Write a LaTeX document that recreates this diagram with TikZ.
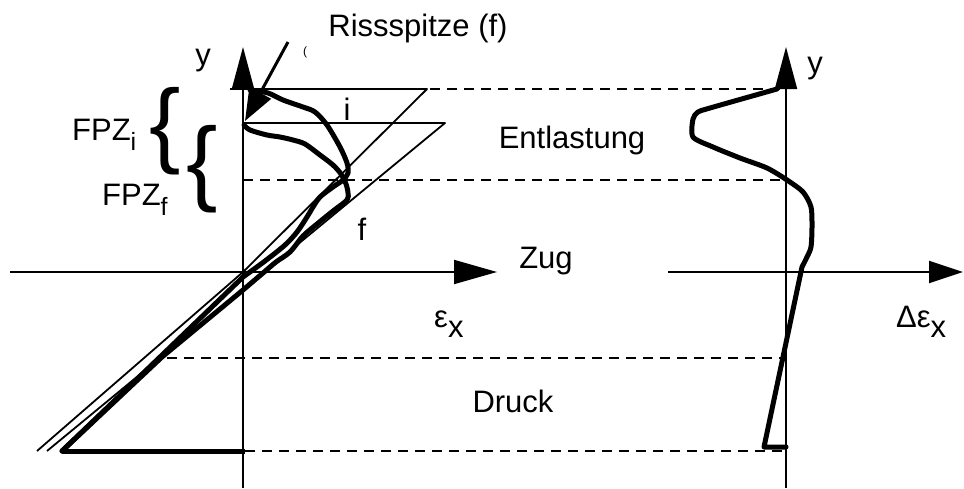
\documentclass[tikz,border=0pt]{standalone}
\usepackage{fontspec}
\setmainfont{Liberation Sans}
\usetikzlibrary{arrows.meta}
\newcommand\mysubsc[1]{\raisebox{-10pt}{#1}}
\begin{document}
\begin{tikzpicture}[x=1pt,y=-1pt,
  lbl/.style={inner sep=0pt, font=\fontsize{31}{36}\selectfont},
  axisline/.style={line width=2pt},
  profile/.style={line width=1.8pt, line join=round},
  dashline/.style={line width=2.6pt, dash pattern=on 10pt off 7pt},
  meas/.style={line width=5pt, line join=round, line cap=round},
  vtip/.style={-{Triangle[length=42pt,width=22pt]}},
  htip/.style={-{Triangle[length=43pt,width=24pt]}},
  bracetxt/.style={inner sep=0pt, font=\fontsize{94}{94}\selectfont}]
\useasboundingbox (0,0) rectangle (964,488);

% ---- coordinates
\coordinate (LyB) at (243,488); \coordinate (LyT) at (243,47);
\coordinate (LxL) at (10,272);  \coordinate (LxR) at (497,272);
\coordinate (RyB) at (786,488); \coordinate (RyT) at (786,47);
\coordinate (RxL) at (668,272); \coordinate (RxR) at (963,272);
\coordinate (O)   at (243,272);
\coordinate (iA) at (230,89);  \coordinate (iB) at (427,89);  \coordinate (iC) at (37,451);
\coordinate (fA) at (243,123); \coordinate (fB) at (445,123); \coordinate (fC) at (47,451);
\coordinate (bL) at (62,451);  \coordinate (bR) at (245,451);

% ---- dashed level lines
\coordinate (d1a) at (243,89);  \coordinate (d1b) at (780,89);
\coordinate (d2a) at (243,180); \coordinate (d2b) at (782,180);
\coordinate (d3a) at (167,358); \coordinate (d3b) at (782,358);
\coordinate (d4a) at (245,451); \coordinate (d4b) at (782,451);
\draw[dashline] (d1a) -- (d1b);
\draw[dashline] (d2a) -- (d2b);
\draw[dashline] (d3a) -- (d3b);
\draw[dashline] (d4a) -- (d4b);

% ---- linear profiles
\draw[profile] (iA) -- (iB) -- (O) -- (iC);
\draw[profile] (fA) -- (fB) -- (fC);

% ---- axes
\draw[axisline, vtip] (LyB) -- (LyT);
\draw[axisline, htip] (LxL) -- (LxR);
\draw[axisline, vtip] (RyB) -- (RyT);
\draw[axisline, -{Triangle[length=34pt,width=22pt]}] (RxL) -- (RxR);

% ---- measured profiles
\draw[meas] plot[smooth, tension=0.5] coordinates {
  (250,90) (268,93) (283,100) (303,107) (315,112) (327,125) (340,147)
  (347,163) (348,173) (343,180) (333,187) (320,197) (313,207) (307,217)
  (297,232) (285,245) (265,261) (243,277)} -- (160,357) -- (bL);
\draw[meas] plot[smooth, tension=0.5] coordinates {
  (244,125) (250,130) (267,135) (280,137) (293,140) (305,144) (320,155)
  (333,165) (341,174) (346,184) (348,193) (347,200) (333,211) (317,224)
  (303,236) (290,252) (276,262) (263,273) (243,290)} -- (162,357) -- (bL);
\draw[meas, line cap=butt] (bL) -- (bR);

% ---- difference profile
\draw[meas] plot[smooth, tension=0.45] coordinates {
  (777,89) (710,108) (698,112) (693,119) (693,137) (713,147) (740,158)
  (767,168) (787,180) (803,192) (811,207) (812,227) (811,247) (807,257)
  (802,267)} -- (764,447) -- (786,447);

% ---- crack tip pointer
\coordinate (arrS) at (288,42); \coordinate (arrT) at (245,121);
\draw[line width=3pt, -{Triangle[length=32pt,width=24pt]}] (arrS) -- (arrT);

% ---- braces
\node[bracetxt] (br1) at (165,131) {\{};
\node[bracetxt] (br2) at (202,169) {\{};

% ---- labels
\node[lbl, anchor=base] (riss) at (418,36) {Rissspitze (f)};
\node[inner sep=0pt, font=\fontsize{12}{12}\selectfont] (paren) at (305,52) {(};
\node[lbl, anchor=base] (yl) at (203,65) {y};
\node[lbl, anchor=base] (yr) at (815,73) {y};
\node[lbl, anchor=base west] (fpzi) at (72,140) {FPZ\raisebox{-10pt}{\fontsize{25}{28}\selectfont i}};
\node[lbl, anchor=base west] (fpzf) at (102,205) {FPZ\raisebox{-10pt}{\fontsize{25}{28}\selectfont f}};
\node[lbl, anchor=base] (li) at (347,120) {i};
\node[lbl, anchor=base] (lf) at (362,240) {f};
\node[lbl, anchor=base] (entl) at (572,148) {Entlastung};
\node[lbl, anchor=base] (zug) at (546,268) {Zug};
\node[lbl, anchor=base west] (epsx) at (434,327) {ε\mysubsc{x}};
\node[lbl, anchor=base] (druck) at (513,412) {Druck};
\node[lbl, anchor=base west] (depsx) at (896,327) {Δε\mysubsc{x}};
\end{tikzpicture}
\end{document}
